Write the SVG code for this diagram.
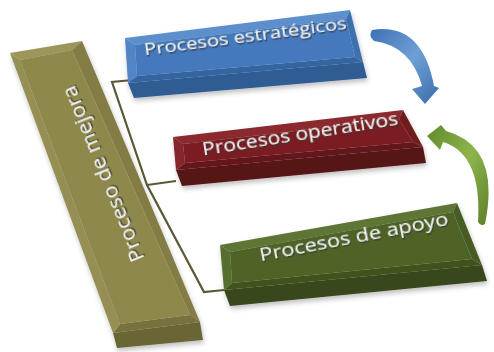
<svg xmlns="http://www.w3.org/2000/svg" width="494" height="352" viewBox="0 0 494 352">
<defs>
<filter id="ts" x="-10%" y="-30%" width="120%" height="160%">
<feDropShadow dx="0.8" dy="1.6" stdDeviation="0.7" flood-color="#333" flood-opacity="0.85"/>
</filter>
<filter id="bs" x="-10%" y="-10%" width="120%" height="130%">
<feDropShadow dx="1" dy="3" stdDeviation="2.5" flood-color="#000" flood-opacity="0.25"/>
</filter>
<linearGradient id="gBlueArrow" x1="0" y1="0" x2="1" y2="1">
<stop offset="0" stop-color="#3d72b5"/>
<stop offset="0.5" stop-color="#6f9fd6"/>
<stop offset="1" stop-color="#3a6cab"/>
</linearGradient>
<linearGradient id="gGreenArrow" x1="1" y1="1" x2="0" y2="0">
<stop offset="0" stop-color="#5d7f2a"/>
<stop offset="0.5" stop-color="#8db54c"/>
<stop offset="1" stop-color="#5f8a2c"/>
</linearGradient>
<style>
.lbl{font-family:"Open Sans","Liberation Sans",sans-serif;fill:#f4f4f4;text-anchor:middle;filter:url(#ts)}
.conn{fill:none;stroke:#5c5836;stroke-width:2.2;stroke-linejoin:miter}
.b0{fill:#4479bd}.b1{fill:#5d8fcc}.b2{fill:#3d70ad}.b3{fill:#3565a0}.b4{fill:#5185c6}.b5{fill:#2f5c93}
.r0{fill:#7a1f23}.r1{fill:#8b2b2f}.r2{fill:#6e1b1e}.r3{fill:#64171a}.r4{fill:#84272b}.r5{fill:#561316}
.g0{fill:#4f6428}.g1{fill:#5e7434}.g2{fill:#475b24}.g3{fill:#40521f}.g4{fill:#586e2f}.g5{fill:#37471b}
.o0{fill:#8e884c}.o1{fill:#9c965a}.o2{fill:#837d44}.o3{fill:#77723c}.o4{fill:#968f53}.o5{fill:#6a6534}
</style>
</defs>
<rect width="494" height="352" fill="#ffffff"/>

<g id="connectors">
<polyline class="conn" points="133,80 112,82 147,185 204,292 224,290"/>
<line class="conn" x1="147" y1="185" x2="176" y2="181"/>
<path id="arrow-blue" d="M372,30 Q422,22 434,86 L439,88 L425,104 L412,89 L422,86 Q411,46 374,41 Q368,36 372,30 Z" fill="url(#gBlueArrow)"/>
<path id="arrow-green" d="M485,224 Q501,146 446,131 L441,125 L427,136 L440,150 L443,142 Q482,154 478,222 Q481,227 485,224 Z" fill="url(#gGreenArrow)"/>
</g>

<g id="node-mejora" filter="url(#bs)">
<polygon class="o5" points="113,333 200,322 203,340 117,348"/>
<polygon class="o1" points="10,53 82,41 72,50 20,60"/>
<polygon class="o2" points="82,41 200,322 190,315 72,50"/>
<polygon class="o3" points="200,322 113,333 120,324 190,315"/>
<polygon class="o4" points="113,333 10,53 20,60 120,324"/>
<polygon class="o0" points="20,60 72,50 190,315 120,324"/>
<text class="lbl" transform="translate(103,174) rotate(-112)" y="7" font-size="20" textLength="188" lengthAdjust="spacingAndGlyphs">Proceso de mejora</text>
</g>

<g id="node-estrategicos" filter="url(#bs)">
<polygon class="b5" points="128,83 363,62 367,78 134,98"/>
<polygon class="b1" points="125,38 350,10 346,19 135,45"/>
<polygon class="b2" points="350,10 363,62 355,57 346,19"/>
<polygon class="b3" points="363,62 128,83 137,76 355,57"/>
<polygon class="b4" points="128,83 125,38 135,45 137,76"/>
<polygon class="b0" points="135,45 346,19 355,57 137,76"/>
<text class="lbl" transform="translate(246,42) rotate(-7.5)" font-size="17" textLength="204" lengthAdjust="spacingAndGlyphs">Procesos estratégicos</text>
</g>

<g id="node-operativos" filter="url(#bs)">
<polygon class="r5" points="176,170 423,147 426,163 182,186"/>
<polygon class="r1" points="173,137 403,110 399,119 183,144"/>
<polygon class="r2" points="403,110 423,147 413,142 399,119"/>
<polygon class="r3" points="423,147 176,170 185,163 413,142"/>
<polygon class="r4" points="176,170 173,137 183,144 185,163"/>
<polygon class="r0" points="183,144 399,119 413,142 185,163"/>
<text class="lbl" transform="translate(301,140) rotate(-9)" font-size="18" textLength="198" lengthAdjust="spacingAndGlyphs">Procesos operativos</text>
</g>

<g id="node-apoyo" filter="url(#bs)">
<polygon class="g5" points="224,290 482,265 487,281 230,306"/>
<polygon class="g1" points="220,245 457,203 453,212 230,252"/>
<polygon class="g2" points="457,203 482,265 472,259 453,212"/>
<polygon class="g3" points="482,265 224,290 232,283 472,259"/>
<polygon class="g4" points="224,290 220,245 230,252 232,283"/>
<polygon class="g0" points="230,252 453,212 472,259 232,283"/>
<text class="lbl" transform="translate(355,243) rotate(-11)" font-size="18" textLength="192" lengthAdjust="spacingAndGlyphs">Procesos de apoyo</text>
</g>
</svg>
